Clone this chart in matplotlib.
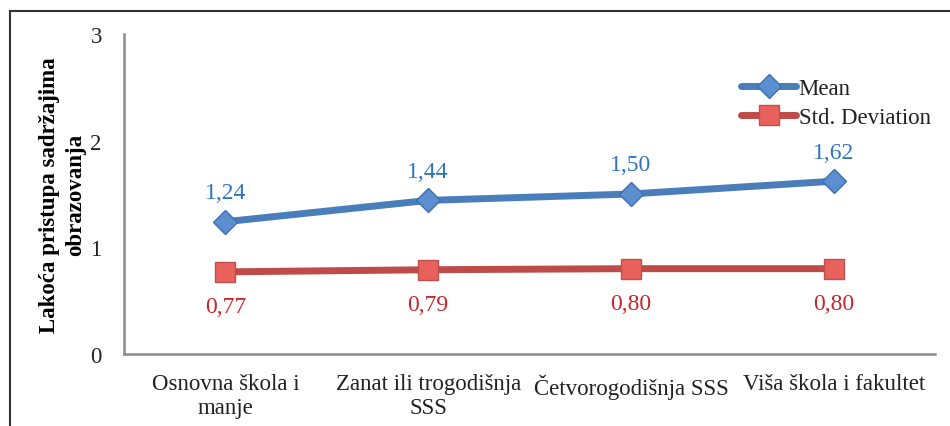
import matplotlib
matplotlib.use('Agg')
import matplotlib.pyplot as plt
from matplotlib.lines import Line2D
import numpy as np

categories = ['Osnovna škola i\nmanje', 'Zanat ili trogodišnja\nSSS',
              'Četvorogodišnja SSS', 'Viša škola i fakultet']
mean_vals = [1.24, 1.44, 1.50, 1.62]
std_vals = [0.77, 0.79, 0.80, 0.80]

plt.rcParams['font.family'] = ['Liberation Serif', 'DejaVu Serif']

fig = plt.figure(figsize=(9.5, 4.27), dpi=100)
ax = fig.add_axes([124 / 950, 1 - 355 / 427, (935 - 124) / 950, 320 / 427])

x = np.arange(len(categories))
ax.plot(x, mean_vals, color='#4a7ebb', lw=5, marker='D', ms=12,
        mfc='#5b8fd0', mec='#3d6fae', mew=1, label='Mean', zorder=3,
        solid_capstyle='round')
ax.plot(x, std_vals, color='#be4b48', lw=5, marker='s', ms=14,
        mfc='#e8615c', mec='#c0504d', mew=1, label='Std. Deviation', zorder=3,
        solid_capstyle='round')

for xi, v in zip(x, mean_vals):
    ax.annotate(f'{v:.2f}'.replace('.', ','), (xi, v), xytext=(0, 21),
                textcoords='offset points', ha='center', va='center',
                color='#2e75c0', fontsize=17)
for xi, v in zip(x, std_vals):
    ax.annotate(f'{v:.2f}'.replace('.', ','), (xi, v), xytext=(0, -25),
                textcoords='offset points', ha='center', va='center',
                color='#c8262c', fontsize=17)

ax.set_xlim(-0.5, 3.5)
ax.set_ylim(0, 3)
ax.set_yticks([0, 1, 2, 3])
ax.set_xticks(x)
ax.set_xticklabels(categories, fontsize=16.5, color='#222222', linespacing=1.15)
ax.tick_params(axis='both', length=0, labelsize=16.5, colors='#222222')
ax.tick_params(axis='x', pad=14)
ax.tick_params(axis='y', pad=16)
for s in ['top', 'right']:
    ax.spines[s].set_visible(False)
for s in ['left', 'bottom']:
    ax.spines[s].set_color('#8c8c8c')
    ax.spines[s].set_linewidth(1.8)

ax.set_ylabel('Lakoća pristupa sadržajima\nobrazovanja', fontsize=16.5,
              fontweight='bold', linespacing=1.3, labelpad=3)

leg = ax.legend(loc='upper left', bbox_to_anchor=(0.75, 0.89), frameon=False,
                fontsize=16.5, handlelength=2.4, handletextpad=0.1,
                labelspacing=0.35, borderaxespad=0)
for t in leg.get_texts():
    t.set_color('#222222')

# outer frame (top and left edges)
fig.add_artist(Line2D([10 / 950, 10 / 950], [0, 1 - 12 / 427], color='#333333',
                      lw=1.5, transform=fig.transFigure))
fig.add_artist(Line2D([10 / 950, 1], [1 - 12 / 427, 1 - 12 / 427], color='#333333',
                      lw=1.5, transform=fig.transFigure))

fig.savefig('out.png', dpi=100)
